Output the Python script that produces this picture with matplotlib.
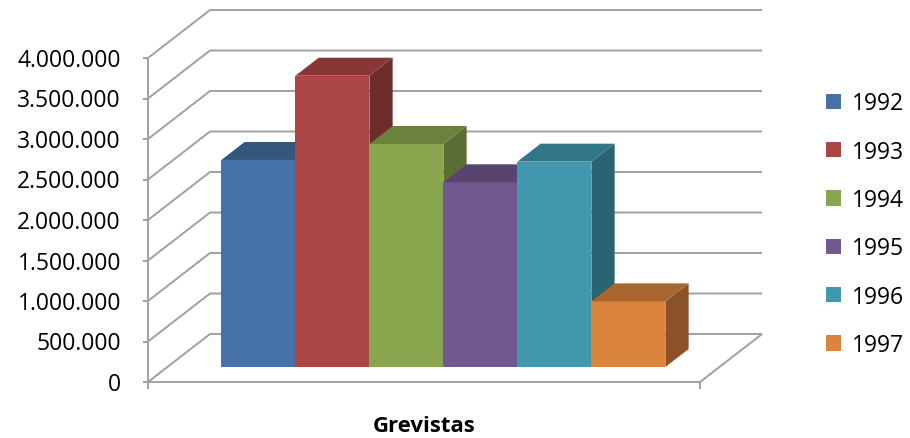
import matplotlib
matplotlib.use('Agg')
import matplotlib.pyplot as plt
from matplotlib.patches import Polygon, Patch
from matplotlib.ticker import FuncFormatter
import numpy as np

plt.rcParams['font.family'] = ['Open Sans', 'DejaVu Sans']

# data
years = ['1992', '1993', '1994', '1995', '1996', '1997']
grevistas = [2556000, 3596000, 2753000, 2280000, 2535000, 810000]
yticks = [0, 500000, 1000000, 1500000, 2000000, 2500000, 3000000, 3500000, 4000000]
xlabel = 'Grevistas'

front_cols = ['#4572A7', '#AA4643', '#89A54E', '#71588F', '#4198AF', '#DB843D']
top_cols = ['#34577F', '#883734', '#6B823C', '#57446F', '#317686', '#A8652F']
side_cols = ['#2E4D70', '#6E2C2B', '#5A6E33', '#4A3A60', '#2A6474', '#8B5227']

# layout (pixels of a 910x439 figure)
W, H = 910, 439
ox, oy = 148, 383          # front-left floor corner
ux, uy = 74.0, 81e-6       # px per category, px per unit value
ddx, ddy = 62.0, 48.0      # depth vector of the floor
floor_w = 7.46
margin = 0.73
d0, d1 = 0.3125, 0.6875    # bar depth range

DX = ddx / ux
DY = ddy / uy


def proj(x, z, d):
    return (x + d * DX, z + d * DY)


fig = plt.figure(figsize=(W / 100, H / 100), dpi=100)
ax = fig.add_axes([0, 0, 1, 1])
ax.set_xlim(-ox / ux, (W - ox) / ux)
ax.set_ylim(-(H - oy) / uy, oy / uy)
ax.axis('off')

grid_kw = dict(color='#A0A0A0', linewidth=1.4, solid_capstyle='butt', zorder=1)

# walls: diagonal on left wall, horizontal on back wall
for v in yticks:
    p0 = proj(0, v, 0)
    p1 = proj(0, v, 1)
    p2 = proj(floor_w, v, 1)
    ax.plot([p0[0], p1[0], p2[0]], [p0[1], p1[1], p2[1]], **grid_kw)

# floor front and right edge
f0 = proj(0, 0, 0)
f1 = proj(floor_w, 0, 0)
f2 = proj(floor_w, 0, 1)
ax.plot([f0[0], f1[0], f2[0]], [f0[1], f1[1], f2[1]], **grid_kw)
# small ticks under the floor
tick = 7 / uy
for xx in (0, floor_w):
    ax.plot([xx, xx], [0, -tick], **grid_kw)

# value axis on the front edge
top = proj(0, yticks[-1], 0)
ax.plot([0, 0], [0, top[1]], **grid_kw)
fmt = FuncFormatter(lambda v, p: '{:,.0f}'.format(v).replace(',', '.'))
for v in yticks:
    ax.plot([0, -5 / ux], [v, v], **grid_kw)
    ax.text(-27 / ux, v - 2 / uy, fmt(v), ha='right', va='center',
            fontsize=16.5, color='#000000')

# bars, left to right (painter's order)
for i, val in enumerate(grevistas):
    x0 = margin + i
    x1 = x0 + 1
    a = proj(x0, 0, d0)
    b = proj(x1, 0, d0)
    c = proj(x1, val, d0)
    e = proj(x0, val, d0)
    bb = proj(x1, 0, d1)
    cb = proj(x1, val, d1)
    eb = proj(x0, val, d1)
    ax.add_patch(Polygon([a, b, c, e], closed=True, facecolor=front_cols[i],
                         edgecolor='none', zorder=3 + i))
    ax.add_patch(Polygon([b, bb, cb, c], closed=True, facecolor=side_cols[i],
                         edgecolor='none', zorder=3 + i))
    ax.add_patch(Polygon([e, c, cb, eb], closed=True, facecolor=top_cols[i],
                         edgecolor='none', zorder=3 + i))

ax.text(floor_w / 2, -(427 - oy) / uy, xlabel, ha='center',
        va='center', fontsize=16, fontweight='bold')

handles = [Patch(facecolor=c, edgecolor='none') for c in front_cols]
fig.legend(handles, years, loc='center left', bbox_to_anchor=(0.898, 0.487),
           frameon=False, fontsize=16.5, handlelength=0.65, handleheight=0.65,
           handletextpad=0.45, labelspacing=1.06, borderaxespad=0)

fig.savefig('out.png', dpi=100)
